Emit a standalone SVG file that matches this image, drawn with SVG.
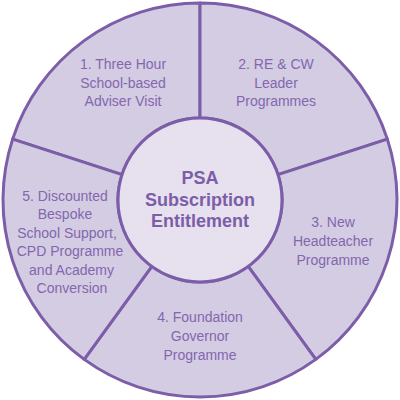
<svg xmlns="http://www.w3.org/2000/svg" width="400" height="400" viewBox="0 0 400 400">
<style>
.sec{fill:#d4cce3;stroke:#7b5ea7;stroke-width:3;stroke-linejoin:round}
.hub{fill:#e6e0ef;stroke:#7b5ea7;stroke-width:3}
.t{font-family:"Liberation Sans",Arial,sans-serif;font-size:14px;fill:#8267ae;text-anchor:middle}
.h{font-family:"Liberation Sans",Arial,sans-serif;font-size:18px;font-weight:bold;fill:#7b5ea7;text-anchor:middle}
</style>
<rect width="400" height="400" fill="#ffffff"/>
<g id="sector1">
<path class="sec" d="M122.01 174.66 L12.64 139.12 A197 197 0 0 1 200 3 L200 118 A82 82 0 0 0 122.01 174.66 Z"/>
<text class="t" x="123" y="69">1. Three Hour</text>
<text class="t" x="123" y="87.5">School-based</text>
<text class="t" x="123" y="106">Adviser Visit</text>
</g>
<g id="sector2">
<path class="sec" d="M200 118 L200 3 A197 197 0 0 1 387.36 139.12 L277.99 174.66 A82 82 0 0 0 200 118 Z"/>
<text class="t" x="276" y="69">2. RE &amp; CW</text>
<text class="t" x="276" y="87.5">Leader</text>
<text class="t" x="276" y="106">Programmes</text>
</g>
<g id="sector3">
<path class="sec" d="M277.99 174.66 L387.36 139.12 A197 197 0 0 1 315.79 359.38 L248.20 266.34 A82 82 0 0 0 277.99 174.66 Z"/>
<text class="t" x="333" y="227">3. New</text>
<text class="t" x="333" y="246">Headteacher</text>
<text class="t" x="333" y="264.5">Programme</text>
</g>
<g id="sector4">
<path class="sec" d="M248.20 266.34 L315.79 359.38 A197 197 0 0 1 84.21 359.38 L151.80 266.34 A82 82 0 0 0 248.20 266.34 Z"/>
<text class="t" x="200" y="322">4. Foundation</text>
<text class="t" x="200" y="341">Governor</text>
<text class="t" x="200" y="359.5">Programme</text>
</g>
<g id="sector5">
<path class="sec" d="M151.80 266.34 L84.21 359.38 A197 197 0 0 1 12.64 139.12 L122.01 174.66 A82 82 0 0 0 151.80 266.34 Z"/>
<text class="t" x="65" y="200.5">5. Discounted</text>
<text class="t" x="65" y="219">Bespoke</text>
<text class="t" x="67" y="237.5">School Support,</text>
<text class="t" x="70" y="256">CPD Programme</text>
<text class="t" x="71.5" y="274.5">and Academy</text>
<text class="t" x="72" y="293">Conversion</text>
</g>
<g id="hub">
<circle class="hub" cx="200" cy="200" r="82"/>
<text class="h" x="200" y="184">PSA</text>
<text class="h" x="200" y="206">Subscription</text>
<text class="h" x="200" y="227">Entitlement</text>
</g>
<g id="connectors"></g>
</svg>
